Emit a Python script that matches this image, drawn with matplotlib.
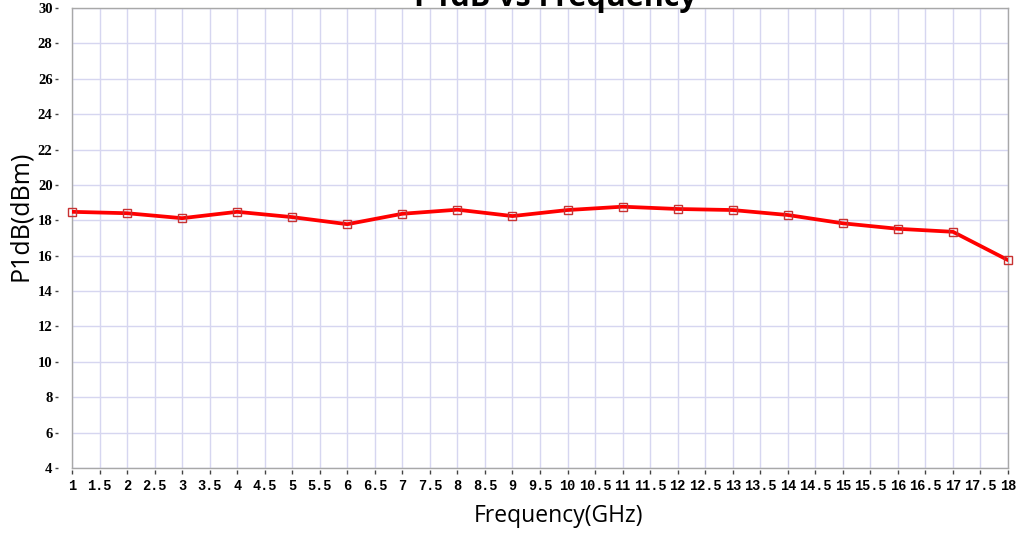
import matplotlib
matplotlib.use("Agg")
import matplotlib.pyplot as plt

freq_ghz = [1, 2, 3, 4, 5, 6, 7, 8, 9, 10, 11, 12, 13, 14, 15, 16, 17, 18]
p1db_dbm = [18.48, 18.4, 18.12, 18.48, 18.18, 17.78, 18.37, 18.6, 18.24,
            18.58, 18.77, 18.64, 18.58, 18.3, 17.83, 17.52, 17.35, 15.75]
x_ticks = [1 + 0.5 * i for i in range(35)]
x_tick_labels = [("%g" % v) for v in x_ticks]
y_ticks = list(range(4, 31, 2))

PX = 72 / 100  # points per pixel

fig = plt.figure(figsize=(10.21, 5.34), dpi=100)
ax = fig.add_axes([72 / 1021, 1 - 468 / 534, (1008 - 72) / 1021, (468 - 8) / 534])

ax.plot(freq_ghz, p1db_dbm, color="#ff0000", lw=2.7, zorder=3, solid_capstyle="round")
ax.plot(freq_ghz, p1db_dbm, ls="none", marker="s", ms=5.5, mfc="none",
        mec="#c83232", mew=1.0, zorder=4, clip_on=False)

ax.set_xlim(1, 18)
ax.set_ylim(4, 30)
ax.set_xticks(x_ticks)
ax.set_xticklabels(x_tick_labels)
ax.set_yticks(y_ticks)
ax.grid(True, color="#d6d6f0", lw=1.0)
ax.set_axisbelow(True)

for s in ax.spines.values():
    s.set_color("#a8a8a8")
    s.set_linewidth(1.0)
ax.spines["left"].set_position(("outward", 14 * PX))
ax.spines["left"].set_visible(False)
ax.spines["bottom"].set_position(("outward", 2 * PX))
ax.spines["bottom"].set_visible(False)
ax.axvline(1, color="#a8a8a8", lw=1.0, clip_on=False, zorder=2)
ax.axhline(4, color="#a8a8a8", lw=1.0, clip_on=False, zorder=2)

for lab in ax.get_xticklabels():
    lab.set_fontfamily("Liberation Mono")
    lab.set_fontweight("bold")
    lab.set_fontsize(9.8)
for lab in ax.get_yticklabels():
    lab.set_fontfamily("Liberation Serif")
    lab.set_fontweight("bold")
    lab.set_fontsize(10.5)
ax.tick_params(axis="y", direction="out", length=3.5 * PX, width=1, color="#444444", pad=2 * PX)
ax.tick_params(axis="x", direction="out", length=4 * PX, width=1, color="#444444", pad=5 * PX)

fig.text(555 / 1021, 1 - 6 / 534, "P1dB vs Frequency", ha="center", va="baseline",
         fontsize=22, fontweight="bold", family="Open Sans")
fig.text(558 / 1021, 1 - 516 / 534, "Frequency(GHz)", ha="center", va="center",
         fontsize=16.5, family="Open Sans")
fig.text(20 / 1021, 1 - 216 / 534, "P1dB(dBm)", ha="center", va="center",
         rotation=90, fontsize=18, family="Open Sans")

fig.savefig("out.png", dpi=100)
